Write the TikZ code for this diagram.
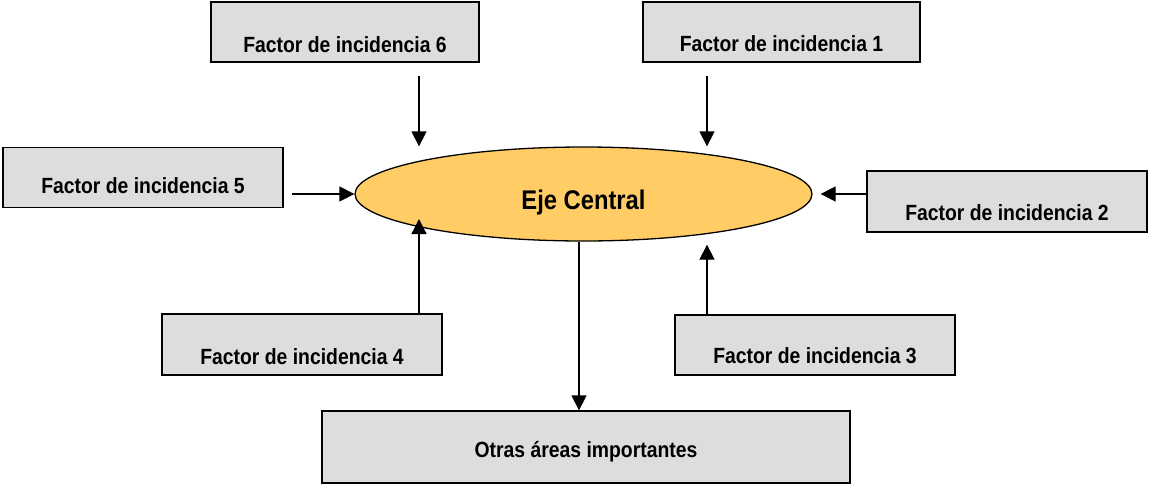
\documentclass[tikz,border=0pt]{standalone}
\usepackage{fontspec}
\newfontfamily\nar{Liberation Sans}[FakeStretch=0.88]
\usetikzlibrary{shapes.geometric,arrows.meta,calc}
\definecolor{boxgray}{HTML}{DDDDDD}
\definecolor{ejefill}{HTML}{FFCC66}
\tikzset{
  fbox/.style={draw=black, line width=1.3pt, fill=boxgray, rectangle, inner sep=0pt,
    minimum height=60pt, font=\nar\bfseries\fontsize{22}{24}\selectfont, text depth=0pt},
  arr/.style={line width=1.3pt, -{Triangle[length=15pt,width=15pt]}},
}
\begin{document}
\begin{tikzpicture}[x=1pt,y=-1pt]
\path[use as bounding box] (0,0) rectangle (1149,488);
% boxes
\node[fbox, minimum width=268pt, text height=41.8pt] (f6) at (345,32) {Factor de incidencia 6};
\node[fbox, minimum width=277pt, text height=39.8pt] (f1) at (781.5,32) {Factor de incidencia 1};
\node[fbox, minimum width=280pt, text height=31pt] (f5) at (143,177.5) {Factor de incidencia 5};
\node[fbox, minimum width=280pt, minimum height=61pt, text height=38.8pt] (f2) at (1007,201.5) {Factor de incidencia 2};
\node[fbox, minimum width=280pt, minimum height=61pt, text height=40.8pt] (f4) at (302,344.5) {Factor de incidencia 4};
\node[fbox, minimum width=280pt, text height=37.8pt] (f3) at (815,345) {Factor de incidencia 3};
\node[fbox, minimum width=528pt, minimum height=72pt, text height=21.8pt] (o) at (586,447) {Otras áreas importantes};
% central ellipse
\node[ellipse, draw=black, line width=1.3pt, fill=ejefill, inner sep=0pt,
  minimum width=457pt, minimum height=94pt, text height=31.4pt, text depth=0pt,
  font=\nar\bfseries\fontsize{27}{29}\selectfont] (e) at (583.5,194) {Eje Central};
% connector start points
\coordinate (s6) at ([xshift=74pt,yshift=-13pt]f6.south);
\coordinate (s1) at ([xshift=-74.5pt,yshift=-13pt]f1.south);
\coordinate (s5) at ([xshift=8pt]f5.east);
\coordinate (s4) at ([xshift=117pt]f4.north);
\coordinate (s3) at ([xshift=-108pt]f3.north);
\coordinate (sd) at ([xshift=-4.5pt]e.south);
\coordinate (t4) at ([yshift=-25pt]e.center);
\coordinate (t3) at ([yshift=-3pt]e.south);
\coordinate (t2) at ([xshift=8pt]e.east);
% connectors
\draw[arr] (s6) -- (s6 |- e.north);
\draw[arr] (s1) -- (s1 |- e.north);
\draw[arr] (s5 |- e.west) -- (e.west);
\draw[arr] (f2.west |- e.east) -- (t2);
\draw[arr] (s4) -- (s4 |- t4);
\draw[arr] (s3) -- (s3 |- t3);
\draw[arr] (sd) -- (sd |- o.north);
\end{tikzpicture}
\end{document}
